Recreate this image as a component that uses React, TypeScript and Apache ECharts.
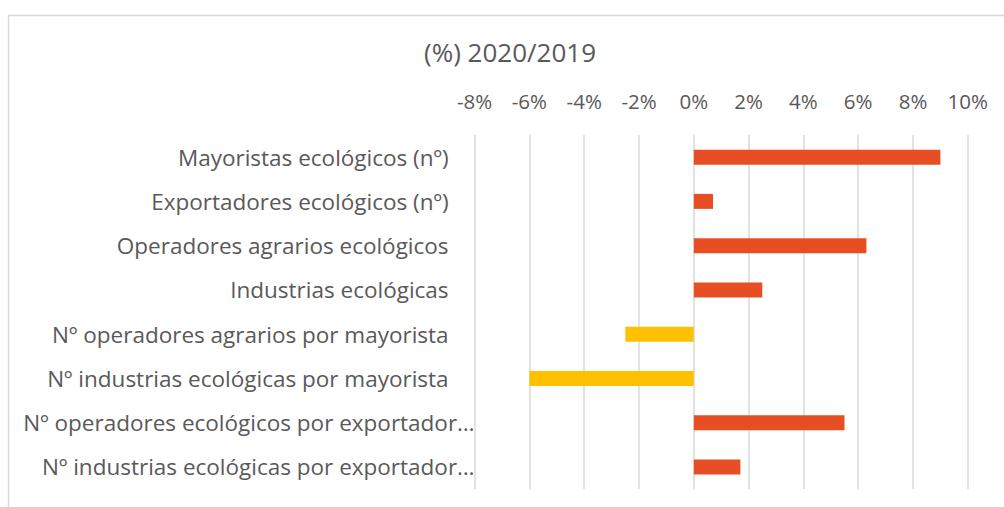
import React, { useEffect, useRef } from "react";
import * as echarts from "echarts";

const categories = [
  "Mayoristas ecológicos (nº)",
  "Exportadores ecológicos (nº)",
  "Operadores agrarios ecológicos",
  "Industrias ecológicas",
  "Nº operadores agrarios por mayorista",
  "Nº industrias ecológicas por mayorista",
  "Nº operadores ecológicos por exportador…",
  "Nº industrias ecológicas por exportador…",
];
const values = [9.0, 0.7, 6.3, 2.5, -2.5, -6.0, 5.5, 1.7];
const titleText = "(%) 2020/2019";
const axisMin = -8;
const axisMax = 10;
const axisStep = 2;

const FONT = "'Open Sans', Lato, sans-serif";
const TEXT = "#595959";
const RED = "#E84E23";
const YELLOW = "#FFC000";
const CAT_SIZE = 22.5;
const TICK_SIZE = 20.5;

export default function App() {
  const ref = useRef<HTMLDivElement>(null);
  useEffect(() => {
    if (!ref.current) return;
    const chart = echarts.init(ref.current, null, { renderer: "svg" });
    chart.setOption({
      animation: false,
      backgroundColor: "#fff",
      textStyle: { fontFamily: FONT },
      title: {
        text: titleText,
        left: 505,
        top: 34,
        textAlign: "center",
        textStyle: { fontFamily: FONT, fontSize: 26, fontWeight: "normal", color: TEXT },
      },
      graphic: [
        {
          type: "rect",
          shape: { x: 8.5, y: 15.5, width: 1010, height: 510 },
          style: { fill: "none", stroke: "#D9D9D9", lineWidth: 1.5 },
          silent: true,
        },
      ],
      grid: { left: 474.6, right: 36.2, top: 135, bottom: 18, containLabel: false },
      xAxis: {
        type: "value",
        position: "top",
        min: axisMin,
        max: axisMax,
        interval: axisStep,
        axisLine: { show: false },
        axisTick: { show: false },
        axisLabel: {
          formatter: (v: number) => `${v}%`,
          color: TEXT,
          fontFamily: FONT,
          fontSize: TICK_SIZE,
          margin: 24,
        },
        splitLine: { show: true, lineStyle: { color: "#D9D9D9", width: 1.5 } },
      },
      yAxis: {
        type: "category",
        data: categories,
        inverse: true,
        axisLine: { show: false },
        axisTick: { show: false },
        splitLine: { show: false },
        axisLabel: {
          margin: 0,
          color: TEXT,
          fontFamily: FONT,
          fontSize: CAT_SIZE,
          formatter: (v: string) => (v.endsWith("…") ? `{l|${v}}` : `{s|${v}}`),
          rich: {
            s: { color: TEXT, fontFamily: FONT, fontSize: CAT_SIZE, padding: [0, 26, 0, 0] },
            l: { color: TEXT, fontFamily: FONT, fontSize: CAT_SIZE, padding: [0, 0, 0, 0] },
          },
        },
      },
      series: [
        {
          type: "bar",
          data: values,
          barWidth: 15,
          itemStyle: {
            color: (p: any) => (p.value < 0 ? YELLOW : RED),
          },
        },
      ],
    });
    return () => chart.dispose();
  }, []);
  return (
    <div
      ref={ref}
      style={{ position: "absolute", left: 0, top: 0, width: 1004, height: 507 }}
    />
  );
}
